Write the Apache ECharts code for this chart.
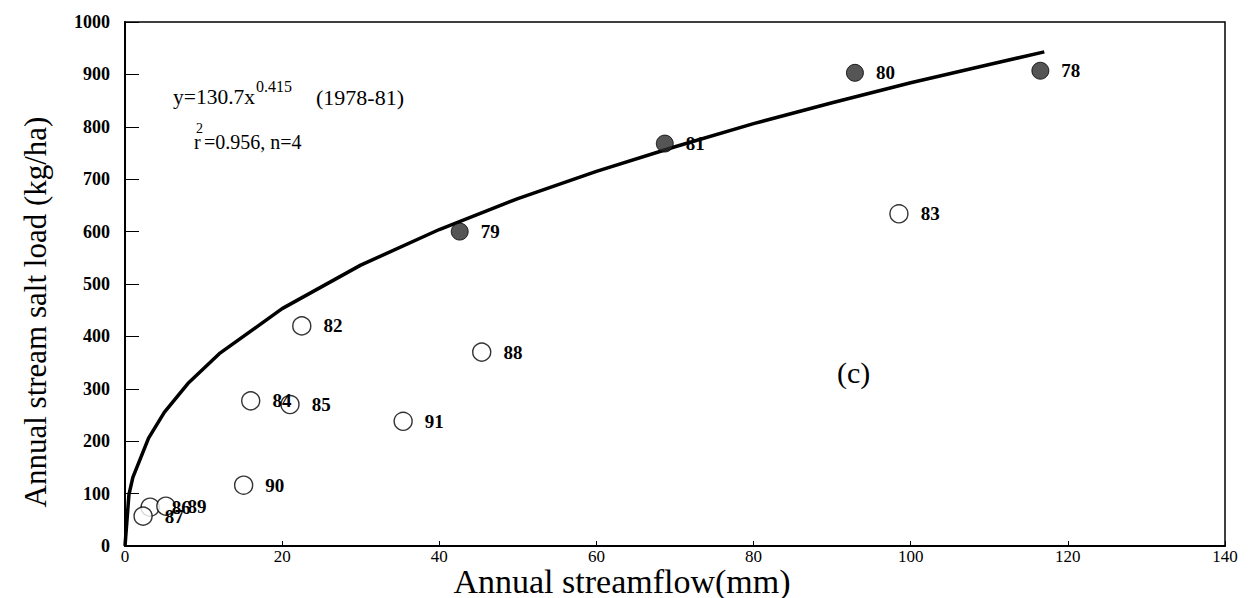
<!DOCTYPE html>
<html>
<head>
<meta charset="utf-8">
<script src="https://cdn.jsdelivr.net/npm/echarts@6/dist/echarts.min.js"></script>
<style>
html,body{margin:0;padding:0;background:#fff;}
#chart{width:1251px;height:598px;}
</style>
</head>
<body>
<div id="chart"></div>
<script>
// Filled points (1978-81)
const filledYears = ['78', '79', '80', '81'];
const filledX = [116.5, 42.6, 92.9, 68.7];
const filledY = [907, 600, 903, 768];
// Open points (1982-91)
const openYears = ['82', '83', '84', '85', '86', '87', '88', '89', '90', '91'];
const openX = [22.5, 98.5, 16.0, 21.0, 3.2, 2.3, 45.4, 5.2, 15.1, 35.4];
const openY = [420, 634, 277, 270, 74, 57, 370, 76, 116, 238];
// Fitted curve
const fitX = [0, 0.5, 1, 3, 5, 8, 12, 20, 30, 40, 50, 60, 70, 80, 90, 100, 110, 117];
const fitY = [0, 98, 131, 206, 255, 310, 367, 453, 536, 604, 663, 715, 762, 806, 846, 884, 919, 943];
// Axis ticks
const xTicks = [0, 20, 40, 60, 80, 100, 120, 140];
const yTicks = [0, 100, 200, 300, 400, 500, 600, 700, 800, 900, 1000];

const SERIF = '"Liberation Serif", "DejaVu Serif", serif';

const chart = echarts.init(document.getElementById('chart'), null, {renderer: 'svg'});

const labelStyle = {
  show: true, position: 'right', distance: 12, opacity: 1, textBorderWidth: 0,
  fontFamily: SERIF, fontSize: 19, fontWeight: 'bold', color: '#000'
};

chart.setOption({
  animation: false,
  backgroundColor: '#fff',
  grid: {left: 125, right: 26, top: 22, bottom: 52, containLabel: false, outerBoundsMode: 'none',
         show: true, borderColor: '#000', borderWidth: 1.5, backgroundColor: 'transparent'},
  xAxis: {
    type: 'value', min: xTicks[0], max: xTicks[xTicks.length - 1], interval: 20,
    name: 'Annual streamflow(mm)', nameLocation: 'middle', nameGap: 18, nameMoveOverlap: false,
    nameTextStyle: {fontFamily: SERIF, fontSize: 34, lineHeight: 34, color: '#000', padding: [0, 106, 0, 0]},
    axisLine: {show: true, lineStyle: {color: '#000', width: 2}},
    axisTick: {show: true, inside: true, length: 5, lineStyle: {color: '#000'}},
    axisLabel: {fontFamily: SERIF, fontSize: 17, lineHeight: 17, color: '#000', margin: 2,
                formatter: v => String(v)},
    splitLine: {show: false}
  },
  yAxis: {
    type: 'value', min: yTicks[0], max: yTicks[yTicks.length - 1], interval: 100,
    name: 'Annual stream salt load (kg/ha)', nameLocation: 'middle', nameGap: 74, nameMoveOverlap: false,
    nameTextStyle: {fontFamily: SERIF, fontSize: 31, color: '#000', padding: [0, 56, 0, 0]},
    axisLine: {show: true, lineStyle: {color: '#000', width: 2}},
    axisTick: {show: true, inside: true, length: 14, lineStyle: {color: '#000'}},
    axisLabel: {fontFamily: SERIF, fontSize: 18, fontWeight: 'bold', color: '#000', margin: 15,
                formatter: v => String(v)},
    splitLine: {show: false}
  },
  series: [
    {
      type: 'line', name: 'fit',
      data: fitX.map((x, i) => [x, fitY[i]]),
      showSymbol: false, symbol: 'none', smooth: false,
      lineStyle: {color: '#000', width: 3.5}, z: 2
    },
    {
      type: 'scatter', name: 'open',
      data: openX.map((x, i) => ({value: [x, openY[i]], name: openYears[i]})),
      symbol: 'circle', symbolSize: 18,
      itemStyle: {color: '#fff', borderColor: '#000', borderWidth: 1.4},
      label: Object.assign({}, labelStyle, {formatter: p => p.name}), z: 3
    },
    {
      type: 'scatter', name: 'filled',
      data: filledX.map((x, i) => ({value: [x, filledY[i]], name: filledYears[i]})),
      symbol: 'circle', symbolSize: 17,
      itemStyle: {color: '#2a2a2a', borderColor: '#000', borderWidth: 1},
      label: Object.assign({}, labelStyle, {formatter: p => p.name}), z: 4
    }
  ],
  graphic: [
    {type: 'text', x: 173, y: 97, style: {text: 'y=130.7x', fontFamily: SERIF, fontSize: 21.5, fill: '#000', textVerticalAlign: 'middle'}},
    {type: 'text', x: 256, y: 86, style: {text: '0.415', fontFamily: SERIF, fontSize: 16, fill: '#000', textVerticalAlign: 'middle'}},
    {type: 'text', x: 316, y: 97, style: {text: '(1978-81)', fontFamily: SERIF, fontSize: 22, fill: '#000', textVerticalAlign: 'middle'}},
    {type: 'text', x: 194, y: 142, style: {text: 'r', fontFamily: SERIF, fontSize: 20, fill: '#000', textVerticalAlign: 'middle'}},
    {type: 'text', x: 196, y: 128, style: {text: '2', fontFamily: SERIF, fontSize: 14, fill: '#000', textVerticalAlign: 'middle'}},
    {type: 'text', x: 204, y: 142, style: {text: '=0.956, n=4', fontFamily: SERIF, fontSize: 20, fill: '#000', textVerticalAlign: 'middle'}},
    {type: 'text', x: 837, y: 372, style: {text: '(c)', fontFamily: SERIF, fontSize: 30, fill: '#000', textVerticalAlign: 'middle'}}
  ]
});
</script>
</body>
</html>
